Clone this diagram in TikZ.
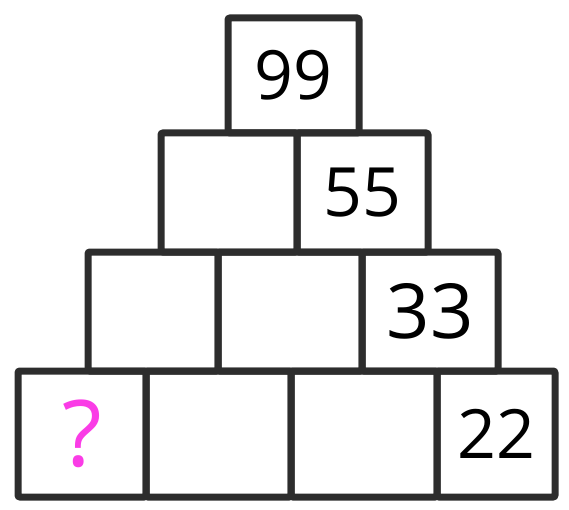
\documentclass[tikz,border=0pt]{standalone}
\usepackage{fontspec}
\setmainfont{Open Sans}
\definecolor{inkline}{RGB}{45,45,45}
\definecolor{qmark}{RGB}{250,60,230}
\begin{document}
\begin{tikzpicture}[x=1pt,y=-1pt,
  cell/.style={draw=inkline, line width=7pt, rounded corners=2pt, rectangle, inner sep=0pt, outer sep=0pt,
    font=\fontsize{68}{68}\selectfont, text=black},
  ask/.style={text=qmark, font=\fontsize{92}{92}\selectfont}]
\useasboundingbox (0,0) rectangle (569,510);
% bottom row
\node[cell, ask, minimum width=128pt, minimum height=126pt] (d1) at (82,434) {?};
\node[cell, minimum width=145pt, minimum height=126pt] (d2) at (218.5,434) {};
\node[cell, minimum width=146pt, minimum height=126pt] (d3) at (364,434) {};
\node[cell, minimum width=118pt, minimum height=126pt] (d4) at (496,434) {22};
% third row
\node[cell, minimum width=130pt, minimum height=119pt] (c1) at (153,311.5) {};
\node[cell, minimum width=144pt, minimum height=119pt] (c2) at (290,311.5) {};
\node[cell, minimum width=136pt, minimum height=119pt, font=\fontsize{76}{76}\selectfont] (c3) at (430,311.5) {33};
% second row
\node[cell, minimum width=136pt, minimum height=119pt] (b1) at (229,192.5) {};
\node[cell, minimum width=131pt, minimum height=119pt] (b2) at (362.5,192.5) {55};
% top
\node[cell, minimum width=131pt, minimum height=115pt] (a1) at (293.5,75.5) {99};
\end{tikzpicture}
\end{document}
